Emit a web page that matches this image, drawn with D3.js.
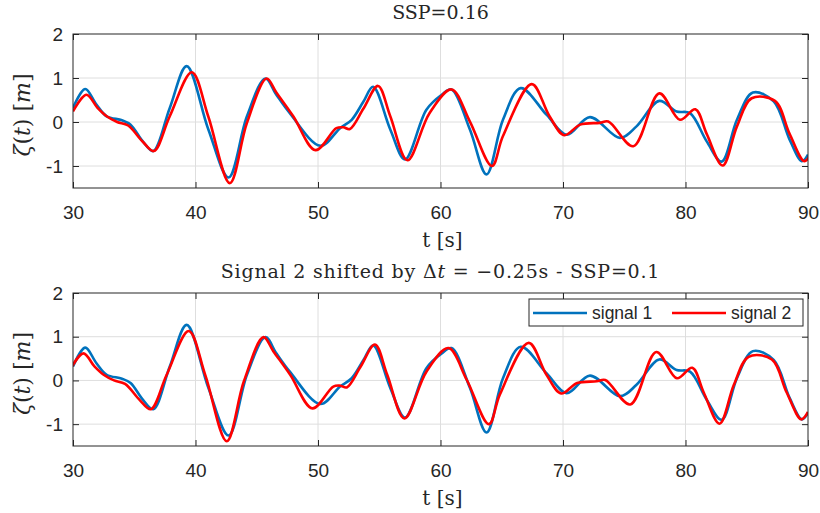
<!DOCTYPE html>
<html>
<head>
<meta charset="utf-8">
<script src="https://cdn.jsdelivr.net/npm/d3@7"></script>
<style>
  body { margin: 0; background: #fff; }
  svg { display: block; }
  .tick text { font-family: "Liberation Sans", Arial, sans-serif; font-size: 19px; fill: #262626; }
  .latex { font-family: "DejaVu Serif", "Liberation Serif", serif; fill: #262626; }
</style>
</head>
<body>
<div id="chart"></div>
<script>
// signal 1 (blue): time [s], elevation [m]
const t1 = [30.0, 31.0, 31.9, 32.75, 34.0, 34.7, 35.7, 36.55, 37.9, 39.28, 41.05, 42.7, 44.2, 45.7, 46.6, 47.7, 50.2, 51.8, 52.75, 53.7, 54.5, 55.9, 57.1, 58.85, 60.1, 60.9, 62.4, 63.76, 65.1, 66.55, 68.67, 70.3, 72.2, 74.65, 76.0, 77.86, 79.27, 80.37, 81.73, 82.95, 84.2, 85.5, 87.2, 88.5, 89.5, 90.0];
const v1 = [0.32, 0.75, 0.40, 0.13, 0.04, -0.06, -0.44, -0.66, 0.32, 1.27, -0.17, -1.26, 0.13, 0.99, 0.62, 0.20, -0.54, -0.14, 0.05, 0.46, 0.80, -0.17, -0.85, 0.28, 0.62, 0.74, -0.17, -1.19, 0.05, 0.77, 0.16, -0.29, 0.11, -0.36, -0.10, 0.48, 0.24, 0.20, -0.44, -0.90, 0.05, 0.67, 0.47, -0.40, -0.89, -0.74];

// signal 2 (red)
const t2 = [30.0, 31.1, 32.0, 32.75, 33.6, 34.5, 35.7, 36.6, 37.9, 39.7, 41.05, 42.8, 44.2, 45.8, 46.6, 47.98, 49.8, 51.5, 52.07, 52.6, 53.7, 54.9, 55.9, 57.3, 59.1, 60.9, 62.4, 64.2, 65.1, 67.45, 68.9, 70.1, 71.4, 73.0, 73.7, 75.74, 77.86, 79.55, 80.8, 81.73, 83.03, 84.2, 85.4, 87.3, 88.5, 89.7, 90.25];
const v2 = [0.24, 0.62, 0.32, 0.13, 0.0, -0.08, -0.45, -0.66, 0.13, 1.13, 0.12, -1.39, -0.02, 0.99, 0.67, 0.13, -0.64, -0.14, -0.12, -0.16, 0.30, 0.82, 0.13, -0.87, 0.20, 0.74, 0.01, -1.0, -0.32, 0.86, 0.13, -0.30, -0.06, -0.02, 0.01, -0.55, 0.65, 0.05, 0.29, -0.27, -0.99, -0.10, 0.54, 0.48, -0.27, -0.89, -0.72];

const shiftDt = -0.25;
const xTicks = [30, 40, 50, 60, 70, 80, 90];
const yTicks = [-1, 0, 1, 2];
const titles = ["SSP=0.16", null];
const seriesNames = ["signal 1", "signal 2"];
const colors = ["#0072BD", "#FF0000"];

const width = 820, height = 513;
const svg = d3.select("#chart").append("svg")
    .attr("width", width)
    .attr("height", height);

const panels = [
    { top: 34, bottom: 188, shift: 0 },
    { top: 293, bottom: 446, shift: shiftDt }
];
const left = 73, right = 808;

const x = d3.scaleLinear().domain([30, 90]).range([left, right]);

panels.forEach((p, i) => {
    const y = d3.scaleLinear().domain([-1.5, 2]).range([p.bottom, p.top]);
    const g = svg.append("g");

    const clipId = "clip" + i;
    svg.append("clipPath").attr("id", clipId)
        .append("rect")
        .attr("x", left).attr("y", p.top)
        .attr("width", right - left).attr("height", p.bottom - p.top);

    // grid
    g.selectAll(".gx").data(xTicks.slice(1, -1)).join("line")
        .attr("x1", d => x(d)).attr("x2", d => x(d))
        .attr("y1", p.top).attr("y2", p.bottom)
        .attr("stroke", "#dedede").attr("stroke-width", 1);
    g.selectAll(".gy").data(yTicks.slice(0, -1)).join("line")
        .attr("x1", left).attr("x2", right)
        .attr("y1", d => y(d)).attr("y2", d => y(d))
        .attr("stroke", "#dedede").attr("stroke-width", 1);

    // axes with inward ticks
    const axB = g.append("g").attr("transform", `translate(0,${p.bottom})`)
        .call(d3.axisBottom(x).tickValues(xTicks).tickSizeInner(-6).tickSizeOuter(0).tickPadding(18));
    const axL = g.append("g").attr("transform", `translate(${left},0)`)
        .call(d3.axisLeft(y).tickValues(yTicks).tickSizeInner(-6).tickSizeOuter(0).tickPadding(10).tickFormat(d3.format("d")));
    const axT = g.append("g").attr("transform", `translate(0,${p.top})`)
        .call(d3.axisTop(x).tickValues(xTicks).tickSizeInner(-6).tickSizeOuter(0).tickFormat(""));
    const axR = g.append("g").attr("transform", `translate(${right},0)`)
        .call(d3.axisRight(y).tickValues(yTicks).tickSizeInner(-6).tickSizeOuter(0).tickFormat(""));
    [axB, axL, axT, axR].forEach(a => {
        a.select(".domain").remove();
        a.selectAll("line").attr("stroke", "#262626");
    });
    axL.selectAll(".tick text").text(d => d < 0 ? "-" + Math.abs(d) : d);

    // data lines
    const line = d3.line()
        .x(d => x(d[0]))
        .y(d => y(d[1]))
        .curve(d3.curveCatmullRom.alpha(0.5));
    const s1 = t1.map((t, k) => [t, v1[k]]);
    const s2 = t2.map((t, k) => [t + p.shift, v2[k]]);
    const lines = g.append("g").attr("clip-path", `url(#${clipId})`);
    lines.append("path").datum(s1)
        .attr("d", line).attr("fill", "none")
        .attr("stroke", colors[0]).attr("stroke-width", 2.6);
    lines.append("path").datum(s2)
        .attr("d", line).attr("fill", "none")
        .attr("stroke", colors[1]).attr("stroke-width", 2.6);

    // box
    g.append("rect")
        .attr("x", left).attr("y", p.top)
        .attr("width", right - left).attr("height", p.bottom - p.top)
        .attr("fill", "none").attr("stroke", "#262626").attr("stroke-width", 1);

    // x label
    g.append("text").attr("class", "latex")
        .attr("x", (left + right) / 2 + 2).attr("y", p.bottom + 59)
        .attr("text-anchor", "middle").style("font-size", "20px")
        .text("t [s]");

    // y label
    const yl = g.append("text").attr("class", "latex")
        .attr("transform", `translate(30,${(p.top + p.bottom) / 2 + 4}) rotate(-90)`)
        .attr("text-anchor", "middle").style("font-size", "22px");
    yl.append("tspan").style("font-style", "italic").text("ζ");
    yl.append("tspan").text("(");
    yl.append("tspan").style("font-style", "italic").text("t");
    yl.append("tspan").text(") [");
    yl.append("tspan").style("font-style", "italic").text("m");
    yl.append("tspan").text("]");

    // title
    const tt = g.append("text").attr("class", "latex")
        .attr("x", (left + right) / 2).attr("y", p.top - 15)
        .attr("text-anchor", "middle").style("font-size", "19px");
    if (titles[i]) {
        tt.text(titles[i]);
    } else {
        tt.style("letter-spacing", "0.8px");
        tt.append("tspan").text("Signal 2 shifted by Δ");
        tt.append("tspan").style("font-style", "italic").text("t");
        tt.append("tspan").text(" = −" + Math.abs(shiftDt) + "s - SSP=0.1");
    }

    // legend in the lower panel
    if (i === 1) {
        const lg = g.append("g");
        lg.append("rect")
            .attr("x", 529).attr("y", 299).attr("width", 274).attr("height", 27)
            .attr("fill", "#fff").attr("stroke", "#262626").attr("stroke-width", 1);
        const items = [{ x0: 533, name: seriesNames[0], c: colors[0] }, { x0: 672, name: seriesNames[1], c: colors[1] }];
        items.forEach(it => {
            lg.append("line")
                .attr("x1", it.x0).attr("x2", it.x0 + 54)
                .attr("y1", 313).attr("y2", 313)
                .attr("stroke", it.c).attr("stroke-width", 2.6);
            lg.append("text")
                .attr("x", it.x0 + 59).attr("y", 319)
                .style("font-family", "Liberation Sans, Arial, sans-serif")
                .style("font-size", "17.5px").attr("fill", "#262626")
                .text(it.name);
        });
    }
});
</script>
</body>
</html>
